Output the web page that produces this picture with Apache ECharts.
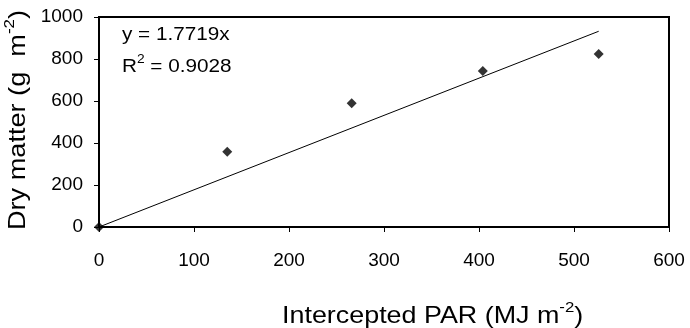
<!DOCTYPE html>
<html>
<head>
<meta charset="utf-8">
<script src="https://cdn.jsdelivr.net/npm/echarts@6/dist/echarts.min.js"></script>
<style>
  html, body { margin: 0; padding: 0; background: #fff; }
  #chart { width: 690px; height: 328px; }
</style>
</head>
<body>
<div id="chart"></div>
<script>
// intercepted PAR (MJ m-2) vs dry matter (g m-2)
const parValues = [0, 135, 266, 404, 526]
const dryMatter = [0, 358, 589, 743, 824]
const slope = 1.7719
const rSquared = 0.9028
const xTicks = [0, 100, 200, 300, 400, 500, 600]
const yTicks = [0, 200, 400, 600, 800, 1000]

const font = 'Liberation Sans, Arial, sans-serif'
const points = parValues.map((x, i) => [x, dryMatter[i]])
const lastX = parValues[parValues.length - 1]
const trend = [[0, 0], [lastX, slope * lastX]]

// big labels with a superscript part
const titleRich = {
  a: { fontSize: 24, fontFamily: font, fill: '#000', lineHeight: 28, verticalAlign: 'bottom' },
  s: { fontSize: 15, fontFamily: font, fill: '#000', lineHeight: 15, verticalAlign: 'top' },
}

const chart = echarts.init(document.getElementById('chart'), undefined, { renderer: 'canvas' })

chart.setOption({
  animation: false,
  textStyle: { fontFamily: font, color: '#000' },
  grid: {
    left: 99, right: 21, top: 17, bottom: 101,
    show: true, borderColor: '#000', borderWidth: 2, backgroundColor: 'transparent',
  },
  xAxis: {
    type: 'value',
    min: xTicks[0],
    max: xTicks[xTicks.length - 1],
    interval: 100,
    axisLine: { show: true, onZero: false, lineStyle: { color: '#000', width: 2 } },
    axisTick: { show: true, length: 5, lineStyle: { color: '#000', width: 1 } },
    axisLabel: { color: '#000', fontSize: 19, fontFamily: font, margin: 24, formatter: (v) => String(v) },
    splitLine: { show: false },
  },
  yAxis: {
    type: 'value',
    min: yTicks[0],
    max: yTicks[yTicks.length - 1],
    interval: 200,
    axisLine: { show: true, onZero: false, lineStyle: { color: '#000', width: 2 } },
    axisTick: { show: true, length: 5, lineStyle: { color: '#000', width: 1 } },
    axisLabel: { color: '#000', fontSize: 19, fontFamily: font, margin: 16, formatter: (v) => String(v) },
    splitLine: { show: false },
  },
  graphic: [
    {
      type: 'text', x: 122, y: 26, scaleX: 1.15,
      style: { text: 'y = ' + slope + 'x', font: '18px ' + font, fill: '#000' },
    },
    {
      type: 'text', x: 122, y: 54, scaleX: 1.15,
      style: {
        text: '{a|R}{s|2}{a| = ' + rSquared + '}',
        rich: {
          a: { fontSize: 18, fontFamily: font, fill: '#000', lineHeight: 22, verticalAlign: 'bottom' },
          s: { fontSize: 12, fontFamily: font, fill: '#000', lineHeight: 12, verticalAlign: 'top' },
        },
      },
    },
    {
      type: 'text', x: 282, y: 300, scaleX: 1.12,
      style: { text: '{a|Intercepted PAR (MJ m}{s|-2}{a|)}', rich: titleRich },
    },
    {
      type: 'text', x: 2, y: 230, rotation: Math.PI / 2, scaleX: 1.13,
      style: { text: '{a|Dry matter (g  m}{s|-2}{a|)}', rich: titleRich },
    },
  ],
  series: [
    {
      name: 'trend',
      type: 'line',
      data: trend,
      showSymbol: false,
      lineStyle: { color: '#000', width: 1 },
      z: 2,
    },
    {
      name: 'observed',
      type: 'scatter',
      data: points,
      symbol: 'diamond',
      symbolSize: 10,
      itemStyle: { color: '#000' },
      z: 3,
    },
  ],
})
</script>
</body>
</html>
